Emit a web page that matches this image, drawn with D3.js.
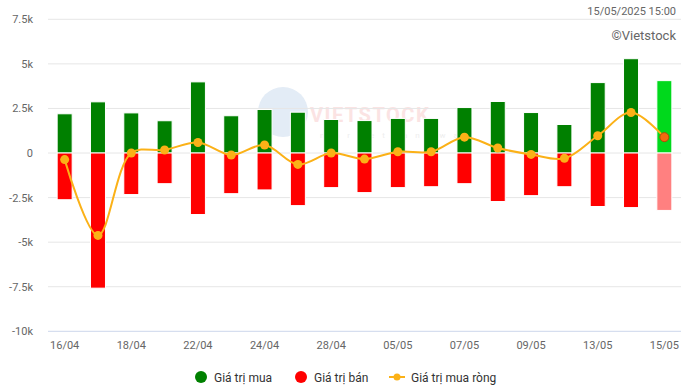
<!DOCTYPE html>
<html>
<head>
<meta charset="utf-8">
<script src="https://cdn.jsdelivr.net/npm/d3@7"></script>
<style>
  body { margin: 0; background: #fff; font-family: Roboto, "Noto Sans", sans-serif; }
  .chart svg { display: block; }
</style>
</head>
<body>
<div class="chart"></div>
<script>
var dates = ["16/04","17/04","18/04","21/04","22/04","23/04","24/04","25/04","28/04","29/04",
             "05/05","06/05","07/05","08/05","09/05","12/05","13/05","14/05","15/05"];
var buyValues  = [2.20, 2.87, 2.25, 1.81, 3.99, 2.09, 2.44, 2.29, 1.88, 1.82,
                  1.94, 1.94, 2.55, 2.89, 2.27, 1.60, 3.95, 5.29, 4.06];
var sellValues = [-2.62, -7.58, -2.33, -1.72, -3.45, -2.28, -2.07, -2.95, -1.94, -2.22,
                  -1.94, -1.89, -1.72, -2.72, -2.39, -1.89, -3.00, -3.06, -3.22];
var netValues  = [-0.37, -4.62, 0.0, 0.17, 0.59, -0.11, 0.45, -0.64, 0.0, -0.34,
                  0.07, 0.07, 0.89, 0.28, -0.08, -0.30, 0.97, 2.27, 0.89];
var yTicks = [-10, -7.5, -5, -2.5, 0, 2.5, 5, 7.5];
var xLabels = ["16/04","18/04","22/04","24/04","28/04","05/05","07/05","09/05","13/05","15/05"];

var svgWidth = 686;
var svgHeight = 390;
var margin = { top: 19.3, right: 5, bottom: 58.7, left: 48 };
var width = svgWidth - margin.left - margin.right;
var height = svgHeight - margin.top - margin.bottom;

var svg = d3.select(".chart")
  .append("svg")
  .attr("width", svgWidth)
  .attr("height", svgHeight);

var chart = svg.append("g")
  .attr("transform", "translate(" + margin.left + "," + margin.top + ")");

var x = d3.scaleBand().domain(dates).range([0, width]).padding(0);
var y = d3.scaleLinear().domain([-10, 7.5]).range([height, 0]);
var barW = 15;
var last = dates.length - 1;

// gridlines
chart.append("g")
  .selectAll("line")
  .data(yTicks.filter(function(d) { return d !== -10; }))
  .enter().append("line")
    .attr("x1", 0)
    .attr("x2", width)
    .attr("y1", function(d) { return y(d); })
    .attr("y2", function(d) { return y(d); })
    .attr("stroke", "#e6e6e6")
    .attr("stroke-width", 1);

// y axis labels
var leftAxis = d3.axisLeft(y)
  .tickValues(yTicks)
  .tickSize(0)
  .tickPadding(15)
  .tickFormat(function(d) { return d === 0 ? "0" : d + "k"; });

var yAxisG = chart.append("g").call(leftAxis);
yAxisG.select(".domain").remove();
yAxisG.selectAll("text")
  .attr("fill", "#666")
  .style("font-size", "11px")
  .style("font-family", "Roboto, sans-serif");

// watermark (drawn behind the bars, very faint)
var wm = svg.append("g");
wm.append("circle")
  .attr("cx", 283)
  .attr("cy", 112)
  .attr("r", 25)
  .attr("fill", "#e3ecf6");
wm.append("text")
  .attr("x", 310)
  .attr("y", 122)
  .attr("fill", "#fbe3e3")
  .style("font-size", "20px")
  .style("font-weight", "bold")
  .style("letter-spacing", "1.5px")
  .text("VIETSTOCK");
wm.append("text")
  .attr("x", 320)
  .attr("y", 138)
  .attr("fill", "#eeeeee")
  .style("font-size", "8px")
  .style("letter-spacing", "8px")
  .text("market anyway");
chart.raise();

// buy bars
chart.append("g")
  .selectAll("rect")
  .data(buyValues)
  .enter().append("rect")
    .attr("x", function(d, i) { return x(dates[i]) + (x.bandwidth() - barW) / 2; })
    .attr("y", function(d) { return y(d); })
    .attr("width", barW)
    .attr("height", function(d) { return y(0) - y(d); })
    .attr("fill", function(d, i) { return i === last ? "#00d91c" : "#008000"; })
    .attr("stroke", "#fff")
    .attr("stroke-width", 1);

// sell bars
chart.append("g")
  .selectAll("rect")
  .data(sellValues)
  .enter().append("rect")
    .attr("x", function(d, i) { return x(dates[i]) + (x.bandwidth() - barW) / 2; })
    .attr("y", y(0))
    .attr("width", barW)
    .attr("height", function(d) { return y(d) - y(0); })
    .attr("fill", function(d, i) { return i === last ? "#ff8080" : "#ff0000"; })
    .attr("stroke", "#fff")
    .attr("stroke-width", 1);

// net line
var line = d3.line()
  .x(function(d, i) { return x(dates[i]) + x.bandwidth() / 2; })
  .y(function(d) { return y(d); })
  .curve(d3.curveCatmullRom.alpha(0.5));

chart.append("path")
  .datum(netValues)
  .attr("d", line)
  .attr("fill", "none")
  .attr("stroke", "#fbb117")
  .attr("stroke-width", 2);

chart.append("g")
  .selectAll("circle")
  .data(netValues)
  .enter().append("circle")
    .attr("cx", function(d, i) { return x(dates[i]) + x.bandwidth() / 2; })
    .attr("cy", function(d) { return y(d); })
    .attr("r", 4.5)
    .attr("fill", function(d, i) { return i === last ? "#f26a0f" : "#fbb117"; })
    .attr("stroke", function(d, i) { return i === last ? "#b24a08" : "none"; })
    .attr("stroke-width", 1);

// x axis
chart.append("line")
  .attr("x1", 0)
  .attr("x2", width)
  .attr("y1", y(-10))
  .attr("y2", y(-10))
  .attr("stroke", "#ccd6eb")
  .attr("stroke-width", 1);

var bottomAxis = d3.axisBottom(x)
  .tickValues(xLabels)
  .tickSize(0)
  .tickPadding(10);

var xAxisG = chart.append("g")
  .attr("transform", "translate(0," + height + ")")
  .call(bottomAxis);
xAxisG.select(".domain").remove();
xAxisG.selectAll("text")
  .attr("fill", "#666")
  .style("font-size", "11px")
  .style("font-family", "Roboto, sans-serif");

// top right texts
svg.append("text")
  .attr("x", 676)
  .attr("y", 15)
  .attr("text-anchor", "end")
  .attr("fill", "#666")
  .style("font-size", "11px")
  .text("15/05/2025 15:00");

svg.append("text")
  .attr("x", 676)
  .attr("y", 40)
  .attr("text-anchor", "end")
  .attr("fill", "#666")
  .style("font-size", "13px")
  .text("©Vietstock");

// legend
var legend = svg.append("g")
  .attr("transform", "translate(0,377)");
legend.append("circle").attr("cx", 201).attr("cy", 0).attr("r", 6).attr("fill", "#008000");
legend.append("text").attr("x", 214).attr("y", 4.5).attr("fill", "#333")
  .style("font-size", "12px").text("Giá trị mua");
legend.append("circle").attr("cx", 301).attr("cy", 0).attr("r", 6).attr("fill", "#ff0000");
legend.append("text").attr("x", 314).attr("y", 4.5).attr("fill", "#333")
  .style("font-size", "12px").text("Giá trị bán");
legend.append("line").attr("x1", 389).attr("x2", 405).attr("y1", 0).attr("y2", 0)
  .attr("stroke", "#fbb117").attr("stroke-width", 2);
legend.append("circle").attr("cx", 397).attr("cy", 0).attr("r", 3.5).attr("fill", "#fbb117");
legend.append("text").attr("x", 411).attr("y", 4.5).attr("fill", "#333")
  .style("font-size", "12px").text("Giá trị mua ròng");
</script>
</body>
</html>
